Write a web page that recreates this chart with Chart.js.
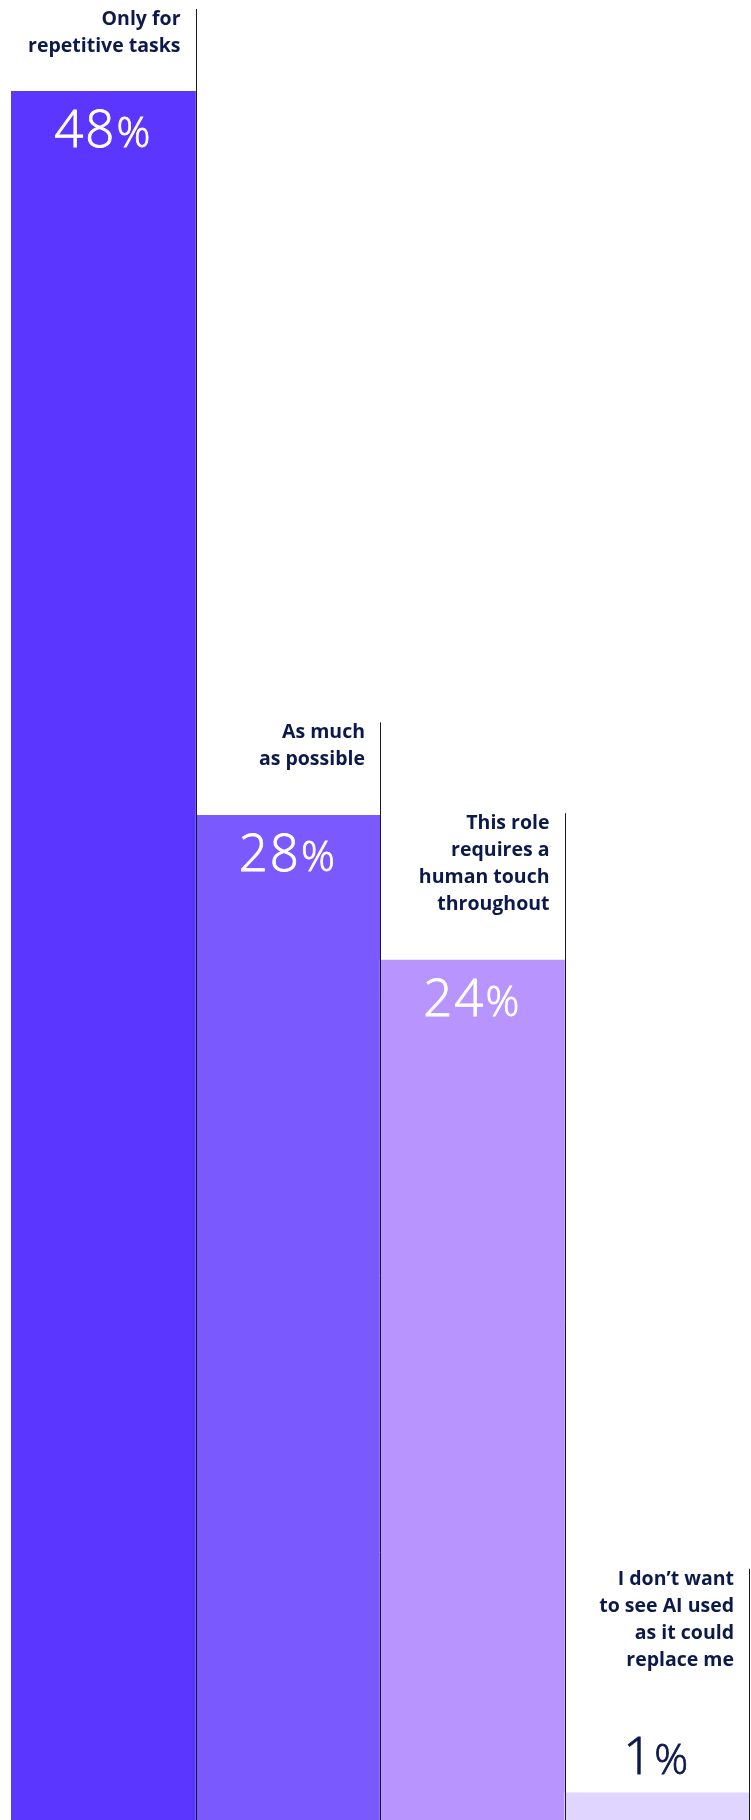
<!DOCTYPE html>
<html>
<head>
<meta charset="utf-8">
<script src="https://cdn.jsdelivr.net/npm/chart.js@4"></script>
<style>
  html, body { margin: 0; padding: 0; background: #fff; }
  .frame { width: 751px; height: 1820px; overflow: hidden; position: relative; }
  .frame canvas { position: absolute; top: 0; left: 0; }
</style>
</head>
<body>
<div class="frame">
  <canvas id="chart" width="751" height="1830"></canvas>
</div>
<script>
const categories = [
  ['Only for', 'repetitive tasks'],
  ['As much', 'as possible'],
  ['This role', 'requires a', 'human touch', 'throughout'],
  ['I don\u2019t want', 'to see AI used', 'as it could', 'replace me']
];
const shares = [48, 28, 24, 1];
const barColors = ['#5b36ff', '#7a5aff', '#b894fe', '#e0d5ff'];

const NAVY = '#0c1a4b';
const NUM_FONT = '300 51px "Open Sans", sans-serif';
const PCT_FONT = '300 42px "Open Sans", sans-serif';

// labels above each bar, the big percent figure and the divider lines
const columnLabels = {
  id: 'columnLabels',
  afterDatasetsDraw(chart) {
    const ctx = chart.ctx;
    const meta = chart.getDatasetMeta(0);
    const bottom = chart.chartArea.bottom;
    meta.data.forEach((bar, i) => {
      const right = bar.x + bar.width / 2;
      const inside = shares[i] >= 5;

      ctx.save();
      // percent figure
      ctx.textBaseline = 'alphabetic';
      ctx.fillStyle = inside ? '#ffffff' : NAVY;
      ctx.strokeStyle = ctx.fillStyle;
      ctx.lineWidth = 0.8;
      ctx.letterSpacing = '2px';
      const base = inside ? bar.y + 56 : bar.y - 19;
      const num = String(shares[i]);
      ctx.font = NUM_FONT;
      const numW = ctx.measureText(num).width;
      ctx.font = PCT_FONT;
      const pctW = ctx.measureText('%').width;
      const start = bar.x - (numW + pctW) / 2;
      ctx.textAlign = 'left';
      ctx.font = NUM_FONT;
      ctx.fillText(num, start, base);
      ctx.strokeText(num, start, base);
      ctx.font = PCT_FONT;
      ctx.fillText('%', start + numW, base);
      ctx.strokeText('%', start + numW, base);
      ctx.letterSpacing = '0px';

      // category label, right aligned against the divider
      const lines = categories[i];
      let last = bar.y - (inside ? 50 : 127);
      let first = last - (lines.length - 1) * 27;
      if (first < 25) { first = 25; last = first + (lines.length - 1) * 27; }
      ctx.font = 'bold 19.5px "Open Sans", sans-serif';
      ctx.fillStyle = NAVY;
      ctx.textAlign = 'right';
      lines.forEach((t, k) => ctx.fillText(t, right - 15, first + k * 27));

      // divider on the right edge of the column
      const lx = Math.round(right) + 0.5;
      ctx.strokeStyle = '#1a1a1a';
      ctx.lineWidth = 1;
      ctx.beginPath();
      ctx.moveTo(lx, first - 16);
      ctx.lineTo(lx, bottom);
      ctx.stroke();
      ctx.restore();
    });
  }
};

new Chart(document.getElementById('chart'), {
  type: 'bar',
  data: {
    labels: categories,
    datasets: [{
      data: shares,
      backgroundColor: barColors,
      borderWidth: 0,
      barPercentage: 1,
      categoryPercentage: 1
    }]
  },
  options: {
    responsive: false,
    animation: false,
    layout: { padding: { left: 11, right: 2, top: 19, bottom: 1 } },
    plugins: {
      legend: { display: false },
      tooltip: { enabled: false }
    },
    scales: {
      x: { display: false },
      y: { display: false, min: 0, max: 50 }
    }
  },
  plugins: [columnLabels]
});
</script>
</body>
</html>
